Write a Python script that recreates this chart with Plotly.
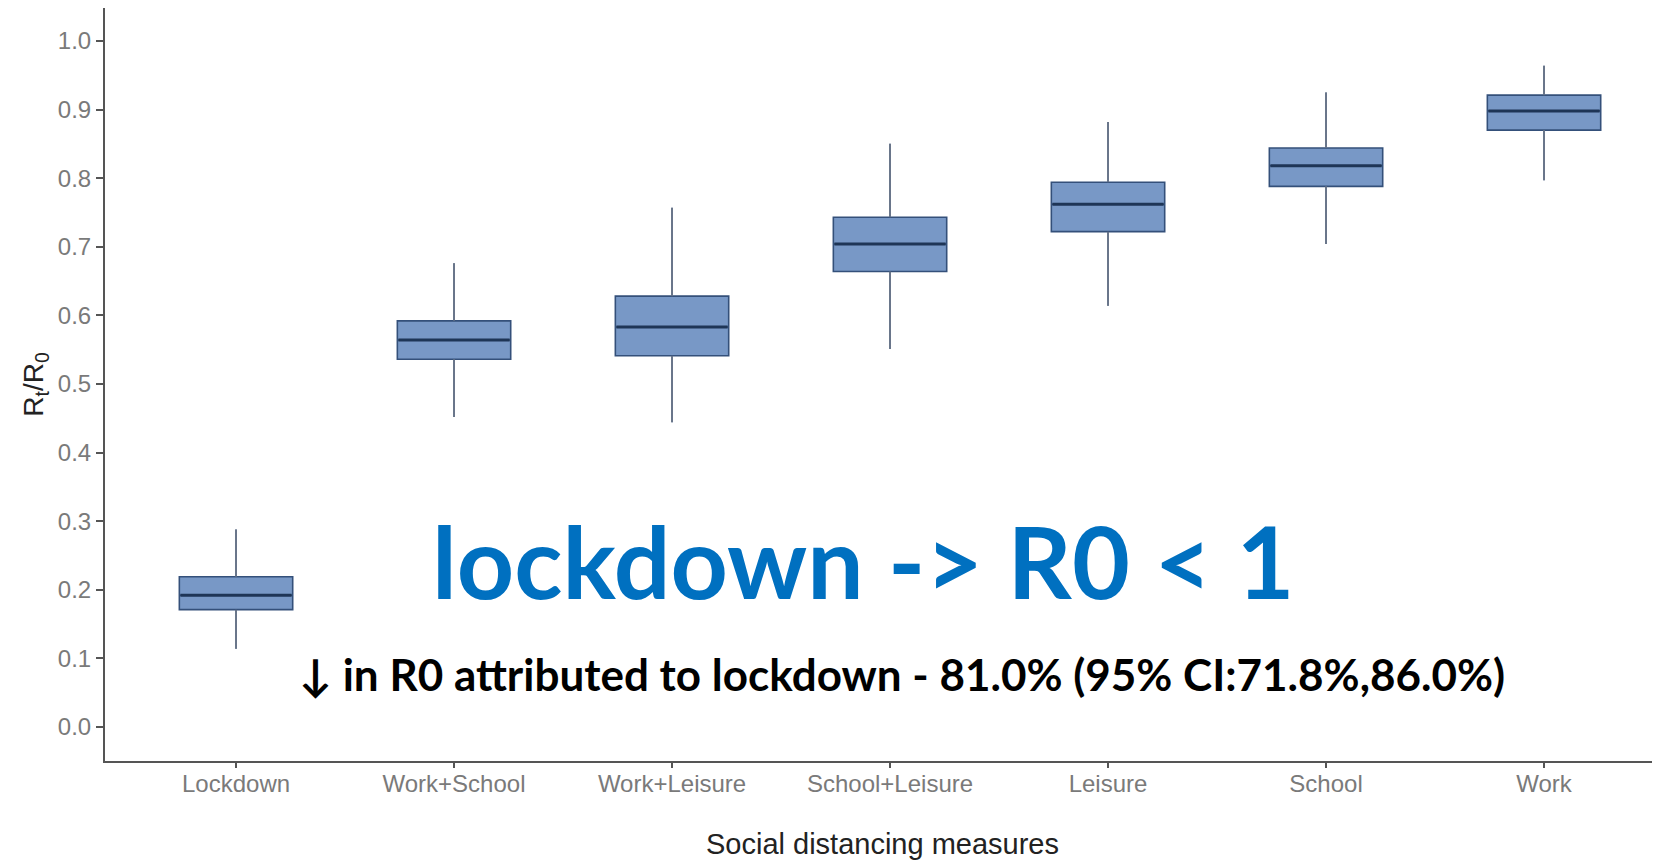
import plotly.graph_objects as go

categories = ["Lockdown", "Work+School", "Work+Leisure", "School+Leisure", "Leisure", "School", "Work"]
lower_whisker = [0.114, 0.452, 0.444, 0.551, 0.614, 0.704, 0.797]
q1_vals = [0.171, 0.536, 0.541, 0.664, 0.722, 0.788, 0.870]
median_vals = [0.192, 0.564, 0.583, 0.704, 0.762, 0.818, 0.898]
q3_vals = [0.219, 0.592, 0.628, 0.743, 0.794, 0.844, 0.921]
upper_whisker = [0.288, 0.676, 0.757, 0.850, 0.882, 0.925, 0.964]
y_ticks = [0.0, 0.1, 0.2, 0.3, 0.4, 0.5, 0.6, 0.7, 0.8, 0.9, 1.0]

positions = list(range(len(categories)))
box_width = 0.52

fig = go.Figure()
fig.add_trace(go.Box(
    x=positions, q1=q1_vals, median=median_vals, q3=q3_vals,
    lowerfence=lower_whisker, upperfence=upper_whisker,
    width=box_width, whiskerwidth=0,
    fillcolor="#7898C6", line=dict(color="#34507A", width=1.6),
    boxpoints=False, showlegend=False, hoverinfo="skip",
))

# whiskers (grey) drawn over the box trace's whiskers
wx, wy = [], []
for p, lo, a, b, hi in zip(positions, lower_whisker, q1_vals, q3_vals, upper_whisker):
    wx += [p, p, None, p, p, None]
    wy += [lo, a, None, b, hi, None]
fig.add_trace(go.Scatter(x=wx, y=wy, mode="lines", line=dict(color="#6E7888", width=1.6),
                         showlegend=False, hoverinfo="skip"))

# thicker medians
mx, my = [], []
for p, m in zip(positions, median_vals):
    mx += [p - box_width / 2 + 0.005, p + box_width / 2 - 0.005, None]
    my += [m, m, None]
fig.add_trace(go.Scatter(x=mx, y=my, mode="lines", line=dict(color="#1E3556", width=3),
                         showlegend=False, hoverinfo="skip"))

fig.update_layout(
    width=1652, height=853,
    margin=dict(l=97, r=0, t=0, b=100),
    paper_bgcolor="white", plot_bgcolor="white",
    font=dict(family="Liberation Sans, Arial, sans-serif"),
    xaxis=dict(
        range=[-0.601, 6.532], tickmode="array", tickvals=positions, ticktext=categories,
        showgrid=False, zeroline=False, showline=True, linecolor="#555555", linewidth=2,
        ticks="outside", ticklen=5, tickcolor="#555555", tickwidth=1.5,
        ticklabelstandoff=-5,
        tickfont=dict(size=24, color="#7A7A7A"),
        title=dict(text="Social distancing measures", font=dict(size=29, color="#222222"), standoff=38),
    ),
    yaxis=dict(
        range=[-0.0496, 1.048], tickmode="array", tickvals=y_ticks,
        ticktext=[f"{v:.1f}" for v in y_ticks],
        showgrid=False, zeroline=False, showline=True, linecolor="#555555", linewidth=2,
        ticks="outside", ticklen=7, tickcolor="#555555", tickwidth=1.5,
        tickfont=dict(size=24, color="#7A7A7A"),
        title=dict(text="R<sub>t</sub>/R<sub>0</sub>", font=dict(size=28, color="#222222"), standoff=6),
    ),
)

fig.add_annotation(
    text="lockdown -> R0 < 1", xref="paper", yref="paper", x=0.488, y=0.267,
    xanchor="center", yanchor="middle", showarrow=False,
    font=dict(family="Lato, sans-serif", size=100, color="#0070C0", weight="bold"),
)
fig.add_annotation(
    text="\u2193 in R0 attributed to lockdown - 81.0% (95% CI:71.8%,86.0%)",
    xref="paper", yref="paper", x=0.5125, y=0.115,
    xanchor="center", yanchor="middle", showarrow=False,
    font=dict(family="Lato, sans-serif", size=44, color="#000000", weight="bold"),
)

fig.write_html("out.html")
